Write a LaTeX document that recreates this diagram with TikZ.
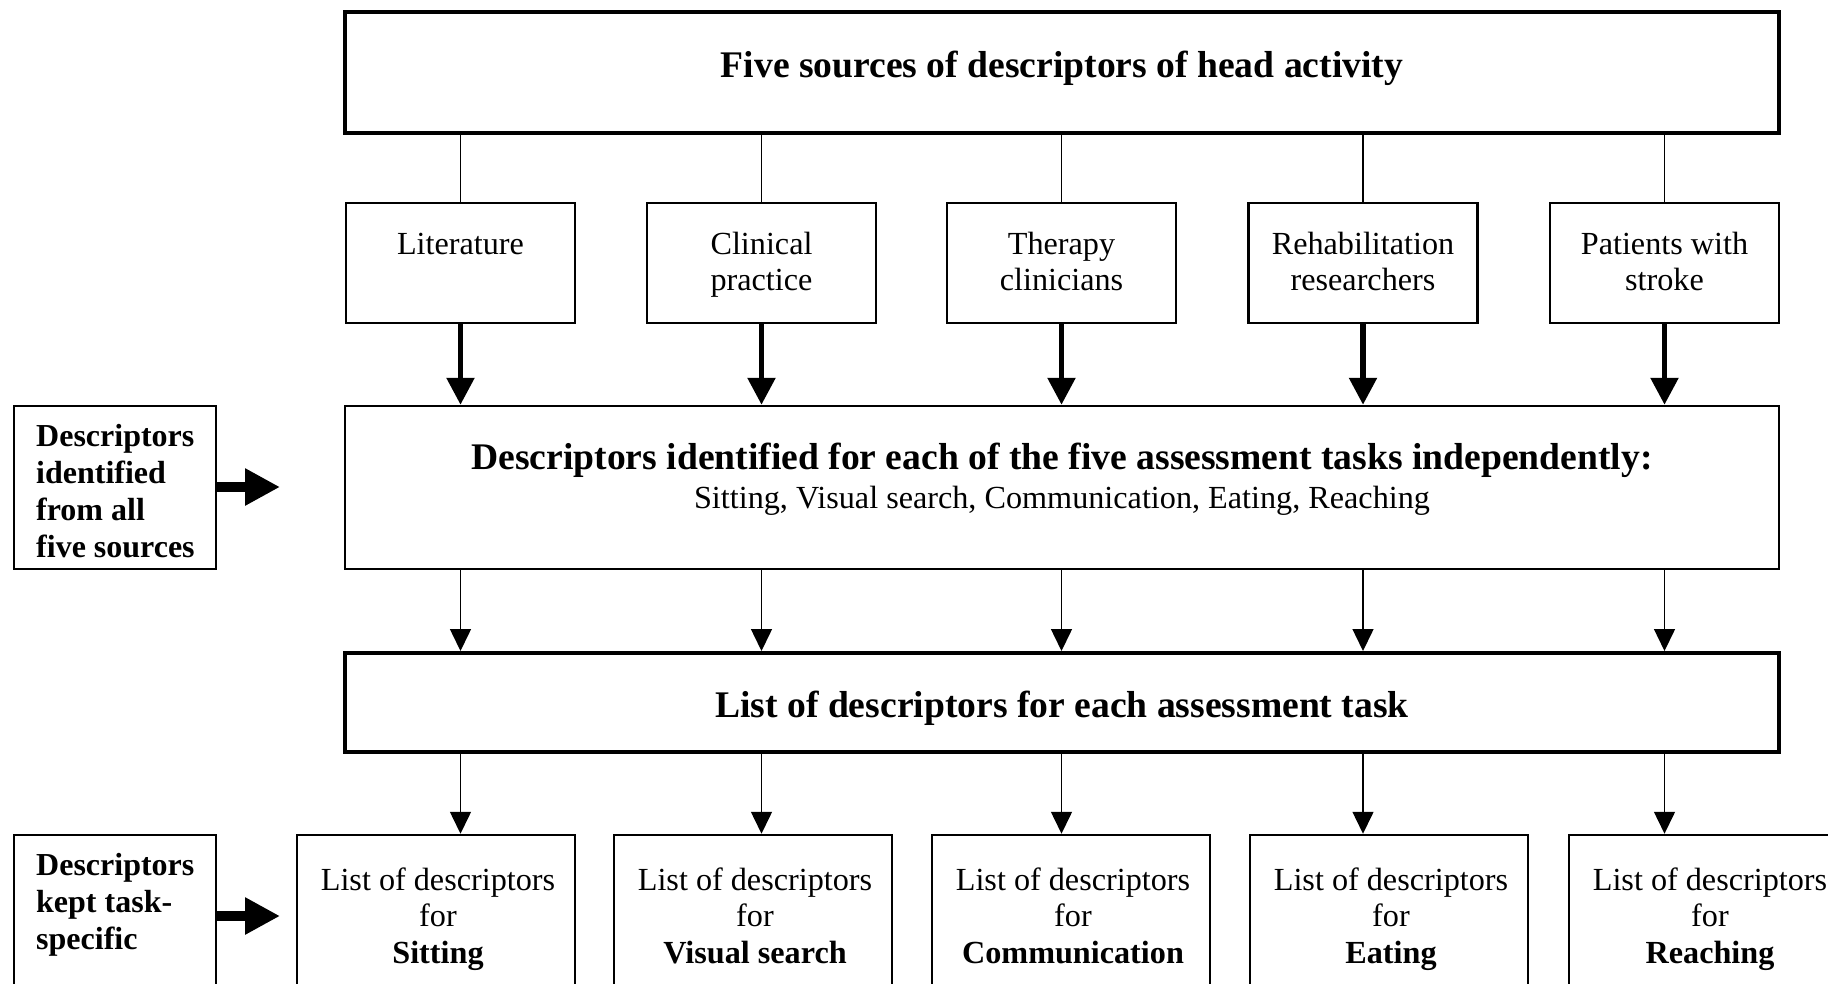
\documentclass[tikz,border=0pt]{standalone}
\usepackage{fontspec}
\setmainfont{Liberation Serif}
\usetikzlibrary{arrows.meta}

\begin{document}
\begin{tikzpicture}[x=1pt,y=-1pt,
  heavybox/.style={draw, line width=4pt, inner sep=0pt},
  framebox/.style={draw, line width=2.5pt, inner sep=0pt},
  srcbox/.style={framebox, minimum width=229pt, minimum height=120pt},
  taskbox/.style={framebox, minimum width=278pt, minimum height=165pt},
  sidebox/.style={framebox, minimum width=202pt, minimum height=163pt},
  % multi-line text nodes sit on the baseline of their last line
  reg/.style={font=\fontsize{32.2}{36.5}\selectfont, align=center, inner sep=0pt, anchor=base},
  big/.style={font=\bfseries\fontsize{37.6}{42}\selectfont, inner sep=0pt, anchor=base},
  sidetext/.style={font=\bfseries\fontsize{32}{36.7}\selectfont, align=left, inner sep=0pt, anchor=base west},
  link/.style={line width=1.3pt},
  feed/.style={line width=5.5pt, -{Triangle[length=27pt,width=27pt]}},
  pass/.style={line width=1.5pt, -{Triangle[length=22pt,width=21pt]}},
  side/.style={line width=10pt, -{Triangle[length=35pt,width=35pt]}}
]
\useasboundingbox (0,0) rectangle (1828,983);
\clip (0,0) rectangle (1828,983);
\fill[white] (0,0) rectangle (1828,983);

% --- top: the five sources -------------------------------------------
\node[heavybox, minimum width=1434pt, minimum height=121pt] (sources) at (1062,72.5) {};
\node[big] (sourcest) at (1062,77) {Five sources of descriptors of head activity};

\node[srcbox] (lit)   at (460.5,263) {};
\node[srcbox] (clin)  at (761.5,263) {};
\node[srcbox] (ther)  at (1061.5,263) {};
\node[srcbox] (rehab) at (1363,263) {};
\node[srcbox] (pat)   at (1664.5,263) {};

\node[reg] (litt)   at (460.5,254) {Literature};
\node[reg] (clint)  at (761.5,290.5) {Clinical\\practice};
\node[reg] (thert)  at (1061.5,290.5) {Therapy\\clinicians};
\node[reg] (rehabt) at (1363,290.5) {Rehabilitation\\researchers};
\node[reg] (patt)   at (1664.5,290.5) {Patients with\\stroke};

% --- middle: descriptors per task -------------------------------------
\node[framebox, minimum width=1434pt, minimum height=163pt] (ident) at (1062,487.5) {};
\node[big] (identa) at (1062,469) {Descriptors identified for each of the five assessment tasks independently:};
\node[reg] (identb) at (1062,508) {Sitting, Visual search, Communication, Eating, Reaching};

\node[heavybox, minimum width=1434pt, minimum height=99pt] (list) at (1062,702.5) {};
\node[big] (listt) at (1062,717) {List of descriptors for each assessment task};

% --- bottom: one list per task ----------------------------------------
\node[taskbox] (sit)   at (436,917.5) {};
\node[taskbox] (vis)   at (753,917.5) {};
\node[taskbox] (com)   at (1071,917.5) {};
\node[taskbox] (eat)   at (1389,917.5) {};
\node[taskbox] (reach) at (1708,917.5) {};

\node[reg] (sitt)   at (438,963) {List of descriptors\\for\\\textbf{Sitting}};
\node[reg] (vist)   at (755,963) {List of descriptors\\for\\\textbf{Visual search}};
\node[reg] (comt)   at (1073,963) {List of descriptors\\for\\\textbf{Communication}};
\node[reg] (eatt)   at (1391,963) {List of descriptors\\for\\\textbf{Eating}};
\node[reg] (reacht) at (1710,963) {List of descriptors\\for\\\textbf{Reaching}};

% --- side notes ------------------------------------------------------
\node[sidebox] (note1) at (115,487.5) {};
\node[sidetext] (note1t) at (36,557) {Descriptors\\identified\\from all\\five sources};
\node[sidebox] (note2) at (115,916.5) {};
\node[sidetext] (note2t) at (36,949) {Descriptors\\kept task-\\specific};

\coordinate (tip1) at (280,487);
\coordinate (tip2) at (280,916);
\draw[side] (note1.east |- tip1) -- (tip1);
\draw[side] (note2.east |- tip2) -- (tip2);

% --- connectors ------------------------------------------------------
\foreach \s in {lit,clin,ther,rehab,pat}{
  \draw[link] (sources.south -| \s) -- (\s.north);
  \draw[feed] (\s.south) -- (ident.north -| \s);
  \draw[pass] (ident.south -| \s) -- (list.north -| \s);
}
\draw[pass] (list.south -| lit)   -- (sit.north -| lit);
\draw[pass] (list.south -| clin)  -- (vis.north -| clin);
\draw[pass] (list.south -| ther)  -- (com.north -| ther);
\draw[pass] (list.south -| rehab) -- (eat.north -| rehab);
\draw[pass] (list.south -| pat)   -- (reach.north -| pat);
\end{tikzpicture}
\end{document}
